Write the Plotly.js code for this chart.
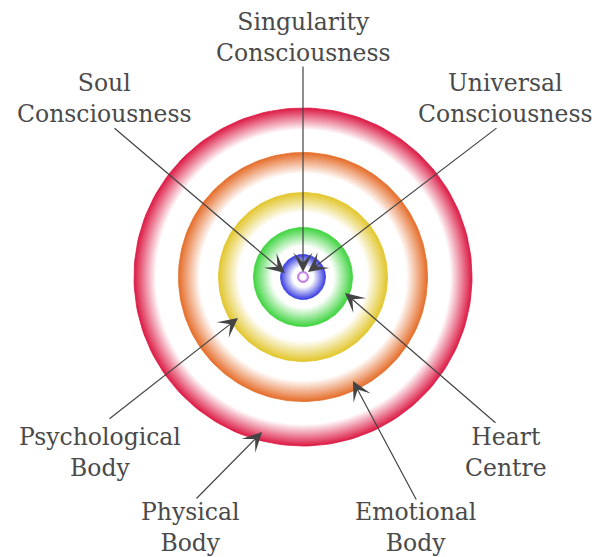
<!DOCTYPE html>
<html>
<head>
<meta charset="utf-8">
<script src="https://cdn.plot.ly/plotly-3.0.1.min.js"></script>
<style>html,body{margin:0;padding:0;background:#fff;}#chart{width:594px;height:557px;}</style>
</head>
<body>
<div id="chart"></div>
<script>
// Rings (outermost first), radius in chart units (1 unit = 1 px)
const ringNames  = ['Physical', 'Emotional', 'Psychological', 'Heart', 'Soul', 'Universal'];
const ringRadius = [169, 124.5, 84.5, 49.5, 22.5, 5.5];
const ringColors = ['#dc1a44', '#e56d2a', '#e2c62c', '#3fd43f', '#3a3ee0', '#b060e0'];
const ringWhite  = [0.87, 0.83, 0.76, 0.62, 0.45, 0.5];

// Labels: text centre and arrow tail / head
const labelText = ['Singularity<br>Consciousness', 'Soul<br>Consciousness', 'Universal<br>Consciousness',
                   'Heart<br>Centre', 'Emotional<br>Body', 'Physical<br>Body', 'Psychological<br>Body'];
const labelX = [0, -199, 202, 203, 112, -113, -203];
const labelY = [240, 179, 179, -175, -250, -250, -175];
const tailX  = [0, -190, 195, 194, 114, -108, -195];
const tailY  = [212, 150, 150, -147, -224, -223, -143];
const headX  = [0, -18, 5, 42, 50, -41, -65];
const headY  = [5, 4, 5, -16, -104, -155, -41];

const traces = ringRadius.map((r, i) => {
  const xs = [], ys = [];
  for (let k = 0; k <= 180; k++) {
    const t = 2 * Math.PI * k / 180;
    xs.push(r * Math.cos(t));
    ys.push(r * Math.sin(t));
  }
  return {
    type: 'scatter', x: xs, y: ys, mode: 'lines', name: ringNames[i],
    line: {width: 0.8, color: ringColors[i]},
    fill: 'toself',
    fillgradient: {type: 'radial', colorscale: [[0, '#ffffff'], [ringWhite[i], '#ffffff'], [1, ringColors[i]]]},
    hoverinfo: 'skip', showlegend: false
  };
});

const font = {family: 'DejaVu Serif', size: 23.5, color: '#4a4a4a'};
const annotations = [];
labelText.forEach((t, i) => {
  annotations.push({
    x: headX[i], y: headY[i], ax: tailX[i], ay: tailY[i], axref: 'x', ayref: 'y',
    xref: 'x', yref: 'y', text: '', showarrow: true,
    arrowhead: 3, arrowsize: 2.7, arrowwidth: 1.2, arrowcolor: '#444', standoff: 0
  });
  annotations.push({
    x: labelX[i], y: labelY[i], xref: 'x', yref: 'y', text: t, showarrow: false,
    font: font, align: 'center', xanchor: 'center', yanchor: 'middle'
  });
});

const layout = {
  width: 594, height: 557,
  margin: {l: 0, r: 0, t: 0, b: 0},
  paper_bgcolor: '#ffffff', plot_bgcolor: '#ffffff',
  xaxis: {range: [-303, 291], visible: false, fixedrange: true},
  yaxis: {range: [-280, 277], visible: false, fixedrange: true},
  annotations: annotations,
  showlegend: false, hovermode: false
};

Plotly.newPlot('chart', traces, layout, {staticPlot: true});
</script>
</body>
</html>
